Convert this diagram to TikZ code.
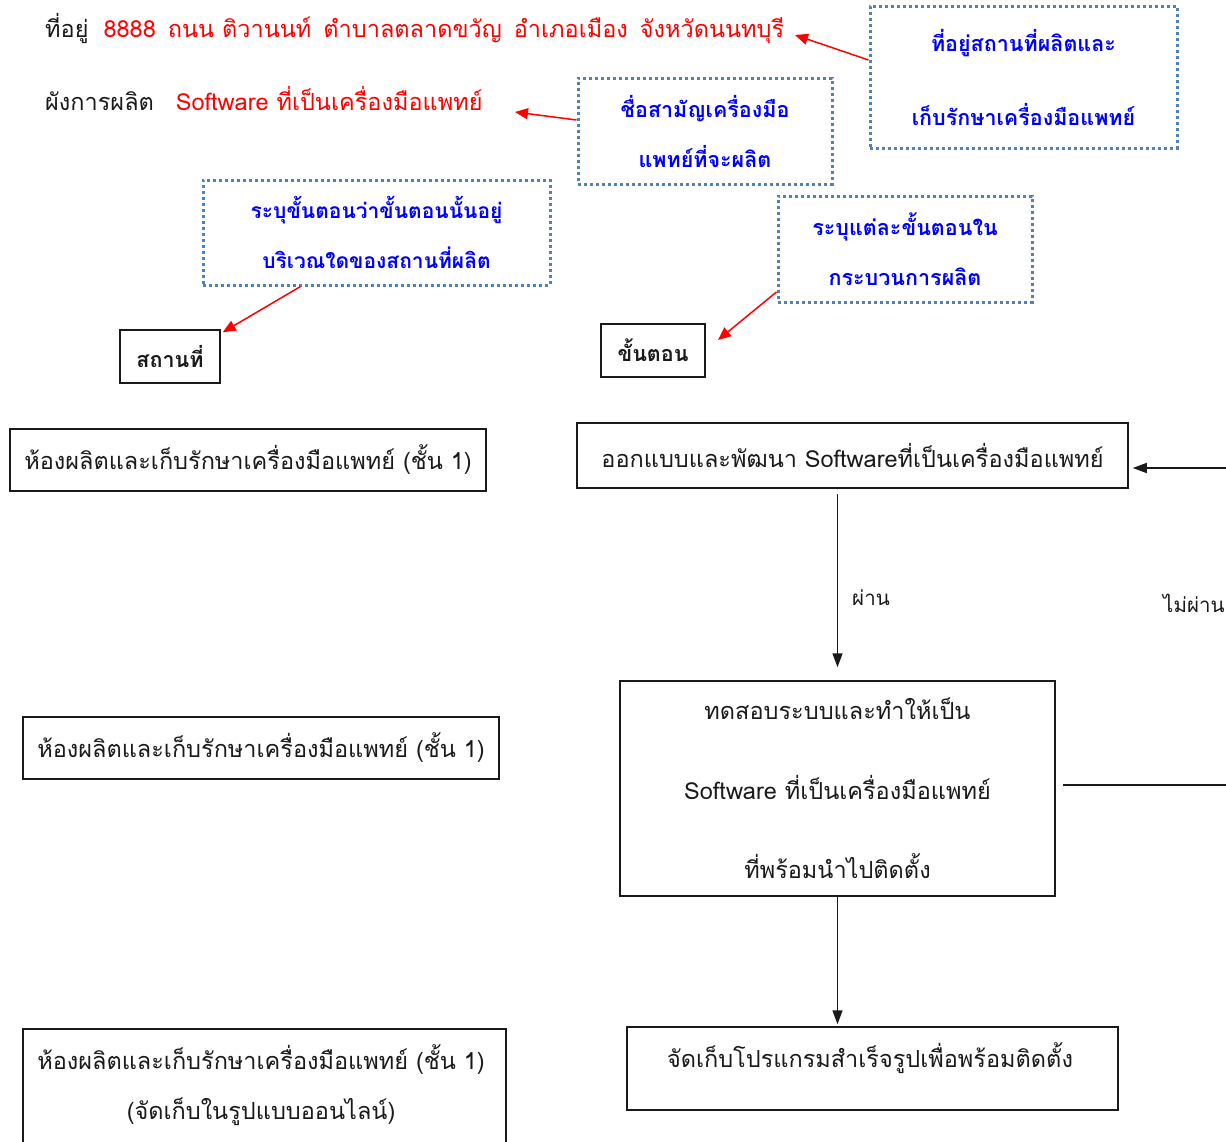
\documentclass[tikz,border=0pt]{standalone}
\usepackage{fontspec}
\setmainfont[Script=Thai]{Loma}
\usetikzlibrary{arrows.meta,calc}
\definecolor{redtxt}{HTML}{FF0000}
\definecolor{bluetxt}{HTML}{0000FF}
\definecolor{dotblue}{HTML}{4F81BD}
\definecolor{ink}{HTML}{1A1A1A}
\begin{document}
\begin{tikzpicture}[x=1pt,y=-1pt,
  plain/.style={text=ink, font=\fontsize{23.5}{28}\selectfont, inner sep=0pt},
  box/.style={draw=ink, line width=1.5pt, inner sep=0pt},
  boxtxt/.style={draw=ink, line width=1.5pt, inner sep=0pt, text=ink, align=center},
  note/.style={draw=dotblue, line width=3pt, dash pattern=on 3pt off 3pt, text=bluetxt, align=center, inner sep=0pt},
  redarrow/.style={draw=redtxt, line width=1.5pt, -{Triangle[length=13pt,width=11pt]}},
  flow/.style={draw=ink, line width=1.5pt, -{Triangle[length=14pt,width=10pt]}},
  line/.style={draw=ink, line width=1.5pt}]
\useasboundingbox (0,0) rectangle (1226,1141);
\clip (0,0) rectangle (1226,1141);

% header lines
\node[plain, anchor=west] (addr) at (45,28) {ที่อยู่\hspace{15pt}\textcolor{redtxt}{8888\hspace{12pt}ถนน ติวานนท์\hspace{12pt}ตำบาลตลาดขวัญ\hspace{12pt}อำเภอเมือง\hspace{12pt}จังหวัดนนทบุรี}};
\node[plain, anchor=west] (chart) at (45,98) {ผังการผลิต\hspace{22pt}\textcolor{redtxt}{Software ที่เป็นเครื่องมือแพทย์}};

% dotted annotation boxes
\node[note, minimum width=307pt, minimum height=142pt, font=\bfseries\fontsize{21.5}{74}\selectfont] (noteA) at (1023.5,77) {ที่อยู่สถานที่ผลิตและ\\เก็บรักษาเครื่องมือแพทย์};
\node[note, minimum width=254pt, minimum height=106pt, font=\bfseries\fontsize{21.5}{50}\selectfont] (noteB) at (705,131) {ชื่อสามัญเครื่องมือ\\แพทย์ที่จะผลิต};
\node[note, minimum width=347pt, minimum height=105pt, font=\bfseries\fontsize{21}{50}\selectfont] (noteC) at (376.5,232.5) {ระบุขั้นตอนว่าขั้นตอนนั้นอยู่\\บริเวณใดของสถานที่ผลิต};
\node[note, minimum width=254pt, minimum height=106pt, font=\bfseries\fontsize{21.5}{50}\selectfont] (noteD) at (905,249) {ระบุแต่ละขั้นตอนใน\\กระบวนการผลิต};

% column headers
\node[boxtxt, minimum width=100pt, minimum height=53pt, font=\bfseries\fontsize{21.5}{26}\selectfont] (loc) at (170,356.5) {สถานที่};
\node[boxtxt, minimum width=104pt, minimum height=53pt, font=\bfseries\fontsize{21.5}{26}\selectfont] (stepbox) at (653,350.5) {ขั้นตอน};

\coordinate (addrEnd) at (795,35);
\coordinate (chartEnd) at (515,112);
\coordinate (stepTip) at (718,340);
\draw[redarrow] ([yshift=17pt]noteA.west) -- (addrEnd);
\draw[redarrow] ([yshift=11pt]noteB.west) -- (chartEnd);
\draw[redarrow] ([xshift=-76pt]noteC.south) -- ([xshift=2pt,yshift=-3pt]loc.north east);
\draw[redarrow] ([yshift=-43pt]noteD.west) -- (stepTip);

% left column
\node[boxtxt, minimum width=476pt, minimum height=62pt, font=\fontsize{23.5}{28}\selectfont] (L1) at (248,460) {ห้องผลิตและเก็บรักษาเครื่องมือแพทย์ (ชั้น 1)};
\node[boxtxt, minimum width=476pt, minimum height=62pt, font=\fontsize{23.5}{28}\selectfont] (L2) at (261,748) {ห้องผลิตและเก็บรักษาเครื่องมือแพทย์ (ชั้น 1)};
\node[box, minimum width=483pt, minimum height=140pt] (L3) at (264.5,1099) {};
\node[plain, align=center, font=\fontsize{23.5}{50}\selectfont] (L3t) at (261,1085) {ห้องผลิตและเก็บรักษาเครื่องมือแพทย์ (ชั้น 1)\\(จัดเก็บในรูปแบบออนไลน์)};

% right column (process)
\node[boxtxt, minimum width=551pt, minimum height=65pt, font=\fontsize{23.5}{28}\selectfont] (R1) at (852.5,455.5) {ออกแบบและพัฒนา Softwareที่เป็นเครื่องมือแพทย์};
\node[boxtxt, minimum width=435pt, minimum height=215pt, font=\fontsize{23.5}{79.5}\selectfont] (R2) at (837.5,788.5) {ทดสอบระบบและทำให้เป็น\\Software ที่เป็นเครื่องมือแพทย์\\ที่พร้อมนำไปติดตั้ง};
\node[box, minimum width=491pt, minimum height=83pt] (R3) at (872.5,1068.5) {};
\node[plain] (R3t) at (870,1058) {จัดเก็บโปรแกรมสำเร็จรูปเพื่อพร้อมติดตั้ง};

\draw[flow, shorten <=5pt, shorten >=13pt] (R1.south -| R2.north) -- (R2.north);
\draw[flow, shorten >=2pt] (R2.south) -- (R3.north -| R2.south);
\node[plain, font=\fontsize{20.5}{24}\selectfont] (pass) at (871,598) {ผ่าน};
\node[plain, anchor=west, font=\fontsize{20.5}{24}\selectfont] (fail) at (1163,603) {ไม่ผ่าน};

\coordinate (fbbot) at (1240,785);
\coordinate (fbtop) at (1240,468);
\draw[line] ([xshift=7pt]R2.east |- fbbot) -- (fbbot) -- (fbtop);
\draw[flow, shorten >=4pt] (fbtop) -- (R1.east |- fbtop);
\end{tikzpicture}
\end{document}
